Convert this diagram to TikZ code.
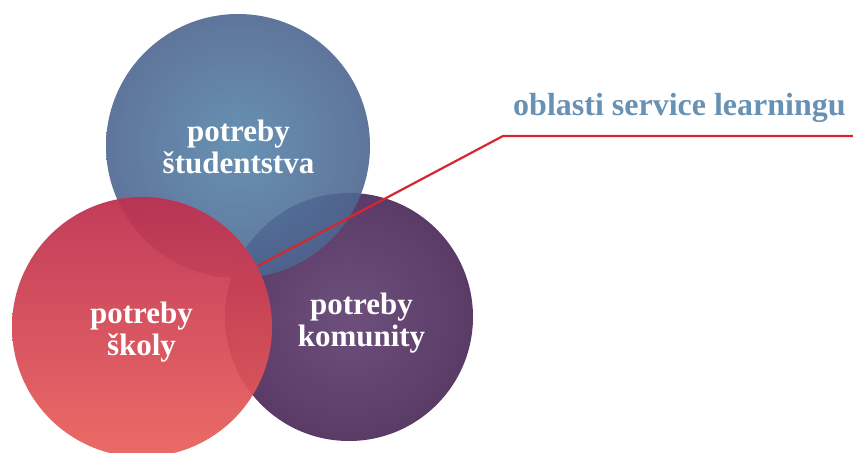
\documentclass[tikz,border=0pt]{standalone}
\usepackage{fontspec}
\setmainfont{Liberation Serif}
\begin{document}
\begin{tikzpicture}[x=1pt,y=-1pt,
  need/.style={font=\bfseries\fontsize{31}{32}\selectfont, text=white, align=center},
  bubble/.style={fill opacity=0.9},
  leader/.style={draw={rgb,255:red,214;green,38;blue,48}, line width=2.2pt},
  title/.style={font=\bfseries\fontsize{32}{36}\selectfont, text={rgb,255:red,104;green,146;blue,181}}]
\useasboundingbox (0,0) rectangle (853,452);
\definecolor{comIn}{RGB}{94,60,110}
\definecolor{comOut}{RGB}{72,38,86}
\definecolor{stuIn}{RGB}{86,134,170}
\definecolor{stuOut}{RGB}{78,102,144}
\definecolor{schTop}{RGB}{190,48,80}
\definecolor{schMid}{RGB}{228,54,74}
\definecolor{schBot}{RGB}{234,98,92}
% community
\shade[bubble, inner color=comIn, outer color=comOut] (349,317) circle[radius=124];
% students
\shade[bubble, fill opacity=0.9, inner color=stuIn, outer color=stuOut] (238,146) circle[radius=132];
% school
\shade[bubble, fill opacity=0.94, top color=schTop, middle color=schMid, bottom color=schBot] (142,327) circle[radius=130];
% labels inside the circles
\node[need] (stu) at (238.5,147) {potreby\\študentstva};
\node[need] (sch) at (141.5,332) {potreby\\školy};
\node[need] (com) at (361.5,323) {potreby\\komunity};
% leader line to the caption
\coordinate (core) at (258,266);
\coordinate (knee) at (503,136);
\coordinate (tail) at (853,136);
\draw[leader] (core) -- (knee) -- (tail);
\node[title, anchor=base west, inner xsep=0pt] (cap) at (513,115) {oblasti service learningu};
\end{tikzpicture}
\end{document}
